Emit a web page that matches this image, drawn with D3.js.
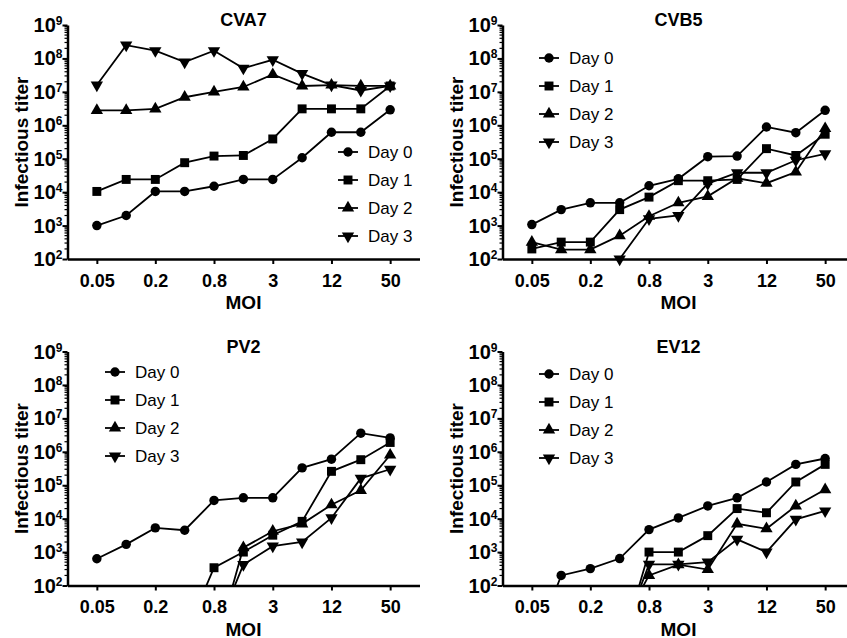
<!DOCTYPE html>
<html>
<head>
<meta charset="utf-8">
<script src="https://cdn.jsdelivr.net/npm/d3@7"></script>
<style>
  body { margin: 0; background: #fff; }
  svg { font-family: Arial, "Liberation Sans", Helvetica, sans-serif; }
</style>
</head>
<body>
<div id="chart"></div>
<script>
// MOI is a 2-fold dilution series from 50 down
const moi = [0.049, 0.098, 0.195, 0.39, 0.78, 1.56, 3.125, 6.25, 12.5, 25, 50];
const moiTicks = [0.049, 0.195, 0.78, 3.125, 12.5, 50];
const moiTickLabels = ["0.05", "0.2", "0.8", "3", "12", "50"];
const titerTicks = [1e2, 1e3, 1e4, 1e5, 1e6, 1e7, 1e8, 1e9];
const days = ["Day 0", "Day 1", "Day 2", "Day 3"];

// rows: Day 0, Day 1, Day 2, Day 3 (null = no point)
const cva7 = [
  [1000, 2000, 1.05e4, 1.05e4, 1.5e4, 2.4e4, 2.4e4, 1.07e5, 6.2e5, 6.2e5, 2.9e6],
  [1.05e4, 2.4e4, 2.4e4, 7.6e4, 1.2e5, 1.25e5, 3.9e5, 3.1e6, 3.1e6, 3.1e6, 1.5e7],
  [2.8e6, 2.8e6, 3.1e6, 6.9e6, 1e7, 1.4e7, 3.3e7, 1.5e7, 1.6e7, 1.5e7, 1.5e7],
  [1.6e7, 2.5e8, 1.7e8, 7.8e7, 1.7e8, 5.1e7, 9.1e7, 3.5e7, 1.6e7, 1.1e7, 1.5e7]
];
const cvb5 = [
  [1070, 3000, 4800, 4800, 1.55e4, 2.5e4, 1.15e5, 1.2e5, 8.9e5, 6e5, 2.8e6],
  [200, 320, 320, 3000, 7100, 2.2e4, 2.2e4, 2.4e4, 2e5, 1.25e5, 5.4e5],
  [320, 190, 190, 500, 1900, 4800, 7500, 2.6e4, 1.85e4, 4e4, 8e5],
  [null, null, null, 100, 1600, 2000, 1.8e4, 3.8e4, 3.8e4, 9e4, 1.4e5]
];
const pv2 = [
  [630, 1700, 5300, 4500, 3.5e4, 4.2e4, 4.2e4, 3.3e5, 6e5, 3.6e6, 2.6e6],
  [null, null, null, 3, 340, 1000, 3200, 8300, 2.6e5, 5.8e5, 1.9e6],
  [null, null, null, null, 1, 1350, 4200, 7000, 2.6e4, 7e4, 8e5],
  [null, null, null, null, 3, 420, 1500, 2000, 1.05e4, 1.6e5, 3e5]
];
const ev12 = [
  [1, 200, 320, 640, 4700, 1.05e4, 2.4e4, 4.2e4, 1.25e5, 4.2e5, 6.3e5],
  [null, null, null, 1, 1000, 1000, 3100, 2e4, 1.5e4, 1.25e5, 4.2e5],
  [null, null, null, 5, 200, 420, 300, 7000, 5000, 2.4e4, 7.4e4],
  [null, null, null, 2, 430, 430, 500, 2400, 1000, 9500, 1.7e4]
];

const panels = [
  { title: "CVA7", data: cva7, left: 67.5, top: 25, legend: [348, 152] },
  { title: "CVB5", data: cvb5, left: 502.5, top: 25, legend: [549, 58] },
  { title: "PV2", data: pv2, left: 67.5, top: 351.5, legend: [115, 372] },
  { title: "EV12", data: ev12, left: 502.5, top: 351.5, legend: [549, 374] }
];

const W = 847, H = 638;
const pw = 352, ph = 234;

const svg = d3.select("#chart").append("svg")
  .attr("width", W)
  .attr("height", H);

// symbols for each day, down triangle is a rotated triangle
const symbols = [
  { type: d3.symbolCircle, size: 70, rot: 0 },
  { type: d3.symbolSquare, size: 80, rot: 0 },
  { type: d3.symbolTriangle, size: 66, rot: 0 },
  { type: d3.symbolTriangle, size: 66, rot: 180 }
];

function drawMarker(g, k, x, y) {
  const s = symbols[k];
  g.append("path")
    .attr("d", d3.symbol().type(s.type).size(s.size)())
    .attr("transform", "translate(" + x + "," + y + ") rotate(" + s.rot + ")")
    .attr("fill", "#000");
}

panels.forEach((p, pi) => {
  const g = svg.append("g").attr("transform", "translate(" + p.left + "," + p.top + ")");

  const x = d3.scaleLog().base(2)
    .domain([moi[0] / 2, moi[moi.length - 1] * 2])
    .range([0, pw]);
  const y = d3.scaleLog()
    .domain([1e2, 1e9])
    .range([ph, 0]);

  // clip lines at the axes
  g.append("clipPath").attr("id", "clip" + pi)
    .append("rect").attr("x", 0).attr("y", -5).attr("width", pw + 10).attr("height", ph + 5);

  const line = d3.line()
    .defined(d => d.v != null)
    .x(d => x(d.m))
    .y(d => y(d.v));

  p.data.forEach((vals, k) => {
    const pts = vals.map((v, i) => ({ m: moi[i], v: v }));
    g.append("path")
      .datum(pts)
      .attr("clip-path", "url(#clip" + pi + ")")
      .attr("fill", "none")
      .attr("stroke", "#000")
      .attr("stroke-width", 1.8)
      .attr("d", line);
    pts.filter(d => d.v != null && d.v >= 1e2).forEach(d => drawMarker(g, k, x(d.m), y(d.v)));
  });

  // x axis
  const xAxis = g.append("g")
    .attr("transform", "translate(0," + ph + ")")
    .call(d3.axisBottom(x)
      .tickValues(moiTicks)
      .tickFormat((d, i) => moiTickLabels[i])
      .tickSizeInner(5)
      .tickSizeOuter(0)
      .tickPadding(10));
  xAxis.select(".domain").attr("stroke-width", 2.5);
  xAxis.selectAll(".tick line").attr("stroke-width", 2);
  xAxis.selectAll("text")
    .attr("font-size", 18)
    .attr("font-weight", "bold")
    .attr("fill", "#000");

  // y axis: minor ticks first
  const minor = [];
  for (let e = 2; e < 9; e++) {
    for (let m = 2; m <= 9; m++) minor.push(m * Math.pow(10, e));
  }
  g.append("g").selectAll("line")
    .data(minor)
    .join("line")
    .attr("x1", -3).attr("x2", 0)
    .attr("y1", d => y(d)).attr("y2", d => y(d))
    .attr("stroke", "#000")
    .attr("stroke-width", 1.2);

  const yAxis = g.append("g")
    .call(d3.axisLeft(y)
      .tickValues(titerTicks)
      .tickFormat("")
      .tickSizeInner(5)
      .tickSizeOuter(0));
  yAxis.select(".domain").attr("stroke-width", 2.5);
  yAxis.selectAll(".tick line").attr("stroke-width", 2);

  // tick labels as 10 with superscript exponent
  const lab = g.append("g").selectAll("text")
    .data(titerTicks)
    .join("text")
    .attr("x", -5)
    .attr("y", d => y(d) + 7)
    .attr("text-anchor", "end")
    .attr("font-weight", "bold")
    .attr("font-size", 20);
  lab.append("tspan").text("10");
  lab.append("tspan")
    .attr("font-size", 12)
    .attr("dy", -7)
    .text(d => Math.round(Math.log10(d)));

  // titles
  g.append("text")
    .attr("x", pw / 2)
    .attr("y", 1)
    .attr("text-anchor", "middle")
    .attr("font-weight", "bold")
    .attr("font-size", 18)
    .text(p.title);

  g.append("text")
    .attr("x", pw / 2)
    .attr("y", ph + 50)
    .attr("text-anchor", "middle")
    .attr("font-weight", "bold")
    .attr("font-size", 19)
    .text("MOI");

  g.append("text")
    .attr("transform", "translate(-40," + (ph / 2) + ") rotate(-90)")
    .attr("text-anchor", "middle")
    .attr("font-weight", "bold")
    .attr("font-size", 19)
    .text("Infectious titer");

  // legend
  const lg = svg.append("g").attr("transform", "translate(" + p.legend[0] + "," + p.legend[1] + ")");
  days.forEach((d, k) => {
    const yy = k * 28;
    lg.append("line")
      .attr("x1", -10).attr("x2", 10)
      .attr("y1", yy).attr("y2", yy)
      .attr("stroke", "#000")
      .attr("stroke-width", 1.8);
    drawMarker(lg, k, 0, yy);
    lg.append("text")
      .attr("x", 20)
      .attr("y", yy)
      .attr("dy", "0.36em")
      .attr("font-size", 17)
      .text(d);
  });
});
</script>
</body>
</html>
